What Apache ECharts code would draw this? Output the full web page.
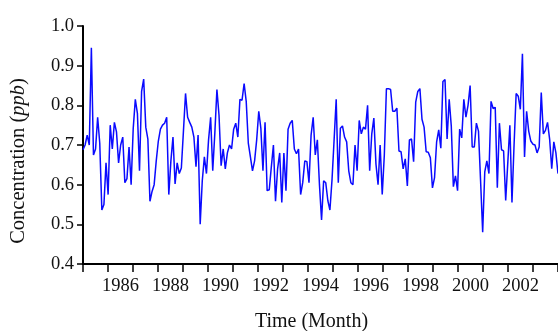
<!DOCTYPE html>
<html>
<head>
<meta charset="utf-8">
<script src="https://cdn.jsdelivr.net/npm/echarts@6/dist/echarts.min.js"></script>
<style>
  html, body { margin: 0; padding: 0; background: #fff; }
  #chart { width: 558px; height: 331px; }
</style>
</head>
<body>
<div id="chart"></div>
<script>
// years on the axis (ticks at year boundaries, label every other year)
const years = ['1985', '1986', '1987', '1988', '1989', '1990', '1991', '1992', '1993', '1994',
  '1995', '1996', '1997', '1998', '1999', '2000', '2001', '2002', '2003'];

// monthly concentration (ppb), Jan 1985 onwards
const conc1985 = [0.688, 0.70, 0.725, 0.70, 0.945, 0.675, 0.69, 0.77, 0.705, 0.536, 0.55, 0.655,
  0.575, 0.75, 0.69, 0.757, 0.733, 0.655, 0.70, 0.72, 0.605, 0.615, 0.695, 0.60,
  0.742, 0.815, 0.78, 0.635, 0.835, 0.866, 0.745, 0.715, 0.558, 0.583, 0.60, 0.66, 0.71];
const conc1988 = [0.74, 0.75, 0.755, 0.77, 0.575, 0.66, 0.72, 0.602, 0.655, 0.628, 0.642, 0.735,
  0.83, 0.77, 0.757, 0.745, 0.72, 0.645, 0.725, 0.50, 0.61, 0.67, 0.628, 0.713,
  0.77, 0.635, 0.73, 0.84, 0.775, 0.648, 0.69, 0.64, 0.68, 0.70, 0.69, 0.74, 0.755];
const conc1991 = [0.72, 0.815, 0.813, 0.855, 0.81, 0.705, 0.67, 0.635, 0.66, 0.713, 0.785, 0.742,
  0.635, 0.757, 0.585, 0.587, 0.645, 0.70, 0.558, 0.64, 0.68, 0.555, 0.68, 0.585,
  0.74, 0.755, 0.762, 0.69, 0.678, 0.69, 0.575, 0.605, 0.66, 0.658, 0.605, 0.725, 0.77];
const conc1994 = [0.675, 0.713, 0.60, 0.511, 0.61, 0.605, 0.56, 0.536, 0.612, 0.713, 0.815, 0.605,
  0.742, 0.748, 0.72, 0.708, 0.635, 0.605, 0.60, 0.70, 0.635, 0.762, 0.728, 0.745,
  0.74, 0.80, 0.635, 0.728, 0.768, 0.652, 0.60, 0.70, 0.575, 0.675, 0.842, 0.842, 0.84, 0.785];
const conc1997 = [0.785, 0.793, 0.685, 0.683, 0.64, 0.665, 0.597, 0.713, 0.715, 0.658, 0.808, 0.835,
  0.842, 0.765, 0.745, 0.683, 0.682, 0.668, 0.592, 0.618, 0.708, 0.738, 0.692, 0.86,
  0.865, 0.715, 0.815, 0.748, 0.595, 0.622, 0.585, 0.74, 0.718, 0.815, 0.77, 0.80, 0.85, 0.695];
const conc2000 = [0.695, 0.755, 0.735, 0.61, 0.48, 0.632, 0.66, 0.628, 0.81, 0.792, 0.795, 0.592,
  0.755, 0.688, 0.685, 0.56, 0.655, 0.75, 0.555, 0.70, 0.83, 0.823, 0.79, 0.93,
  0.67, 0.785, 0.735, 0.71, 0.702, 0.70, 0.68, 0.695, 0.832, 0.728, 0.737, 0.757,
  0.715, 0.64, 0.708, 0.68, 0.628];

const conc = [].concat(conc1985, conc1988, conc1991, conc1994, conc1997, conc2000);
const yTicks = [0.4, 0.5, 0.6, 0.7, 0.8, 0.9, 1.0];

const font = 'Liberation Serif, Times New Roman, serif';
const myChart = echarts.init(document.getElementById('chart'));

myChart.setOption({
  animation: false,
  grid: { left: 83, right: 0, top: 26, bottom: 67, outerBoundsMode: 'none' },
  xAxis: [
    {
      type: 'category',
      data: years,
      boundaryGap: true,
      name: 'Time (Month)',
      nameLocation: 'middle',
      nameGap: 48,
      nameTextStyle: { fontFamily: font, fontSize: 20, color: '#111', padding: [0, 18, 0, 0] },
      axisLine: { show: true, lineStyle: { color: '#000', width: 2 } },
      axisTick: { show: true, inside: false, interval: 0, length: 8, lineStyle: { color: '#000', width: 1.5 } },
      axisLabel: {
        interval: (idx) => idx % 2 === 1,
        margin: 13,
        fontFamily: font,
        fontSize: 18.5,
        color: '#111'
      },
      splitLine: { show: false }
    },
    {
      type: 'value',
      min: 0,
      max: conc.length - 1,
      show: false
    }
  ],
  yAxis: {
    type: 'value',
    min: yTicks[0],
    max: yTicks[yTicks.length - 1],
    interval: 0.1,
    name: 'Concentration ({i|ppb})',
    nameLocation: 'middle',
    nameGap: 54,
    nameTextStyle: {
      fontFamily: font, fontSize: 20.5, color: '#111', padding: [0, 32, 0, 0],
      rich: { i: { fontFamily: font, fontSize: 20.5, fontStyle: 'italic', color: '#111' } }
    },
    axisLine: { show: true, lineStyle: { color: '#000', width: 2 } },
    axisTick: { show: true, inside: false, length: 6, lineStyle: { color: '#000', width: 1.5 } },
    axisLabel: {
      margin: 9,
      fontFamily: font,
      fontSize: 18.5,
      color: '#111',
      formatter: (v) => v.toFixed(1)
    },
    splitLine: { show: false }
  },
  series: [{
    type: 'line',
    xAxisIndex: 1,
    data: conc.map((v, i) => [i, v]),
    showSymbol: false,
    lineStyle: { color: '#0a0aff', width: 1.5 }
  }]
});
</script>
</body>
</html>
